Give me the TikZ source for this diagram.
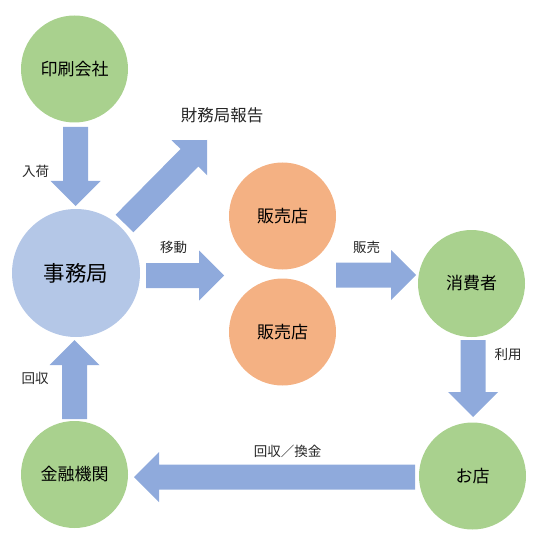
\documentclass[tikz,border=0pt]{standalone}
\usepackage{fontspec}
\setmainfont{Noto Sans CJK JP}
\usetikzlibrary{calc}
\definecolor{arrowc}{HTML}{8FAADC}
\definecolor{greenc}{HTML}{A9D18E}
\definecolor{bluec}{HTML}{B4C7E7}
\definecolor{orangec}{HTML}{F4B183}
\definecolor{textc}{HTML}{262626}
\newcommand\blockarrow[2]{%
  \coordinate (bh) at ($(#2)!25pt!(#1)$);
  \fill[arrowc] ($(#1)!12.5pt!90:(#2)$) -- ($(bh)!12.5pt!90:(#2)$) -- ($(bh)!25pt!90:(#2)$) -- (#2)
    -- ($(bh)!25pt!-90:(#2)$) -- ($(bh)!12.5pt!-90:(#2)$) -- ($(#1)!12.5pt!-90:(#2)$) -- cycle;}
\begin{document}
\begin{tikzpicture}[x=1pt,y=-1pt,
  circ/.style={circle, inner sep=0pt, minimum size=107pt, text=black, font=\fontsize{17}{20}\selectfont},
  lbl/.style={font=\fontsize{13.5}{16}\selectfont, text=textc, inner sep=0pt}]
\useasboundingbox (0,0) rectangle (543,540);
% circles
\node[circ, fill=greenc] (insatsu) at (74.5,69) {印刷会社};
\node[circ, fill=bluec, minimum size=128pt, font=\fontsize{21.5}{24}\selectfont] (jimu) at (76,273) {事務局};
\node[circ, fill=orangec] (hanbai1) at (282.5,216) {販売店};
\node[circ, fill=orangec] (hanbai2) at (282.5,332) {販売店};
\node[circ, fill=greenc] (shohi) at (471.5,283.5) {消費者};
\node[circ, fill=greenc] (omise) at (472.5,476) {お店};
\node[circ, fill=greenc] (kinyu) at (74.5,474.5) {金融機関};
% arrow end points
\coordinate (a1s) at (75.5,127); \coordinate (a1e) at (75.5,206);
\coordinate (a2s) at (124.5,223.5); \coordinate (a2e) at (207,140);
\coordinate (a3s) at (146,275.5); \coordinate (a3e) at (224,275.5);
\coordinate (a4s) at (336,275); \coordinate (a4e) at (416,275);
\coordinate (a5s) at (473,340); \coordinate (a5e) at (473,417);
\coordinate (a6s) at (415,477); \coordinate (a6e) at (134,477);
\coordinate (a7s) at (74.5,419); \coordinate (a7e) at (74.5,340);
\blockarrow{a1s}{a1e}
\blockarrow{a2s}{a2e}
\blockarrow{a3s}{a3e}
\blockarrow{a4s}{a4e}
\blockarrow{a5s}{a5e}
\blockarrow{a6s}{a6e}
\blockarrow{a7s}{a7e}
% labels
\node[lbl, font=\fontsize{16.5}{19}\selectfont] (zaimu) at (222,115) {財務局報告};
\node[lbl] (l1) at (35.5,171) {入荷};
\node[lbl] (l2) at (173.5,247) {移動};
\node[lbl] (l3) at (366.5,247) {販売};
\node[lbl] (l4) at (508,354) {利用};
\node[lbl] (l5) at (287.5,451.5) {回収／換金};
\node[lbl] (l6) at (35,378) {回収};
\end{tikzpicture}
\end{document}
